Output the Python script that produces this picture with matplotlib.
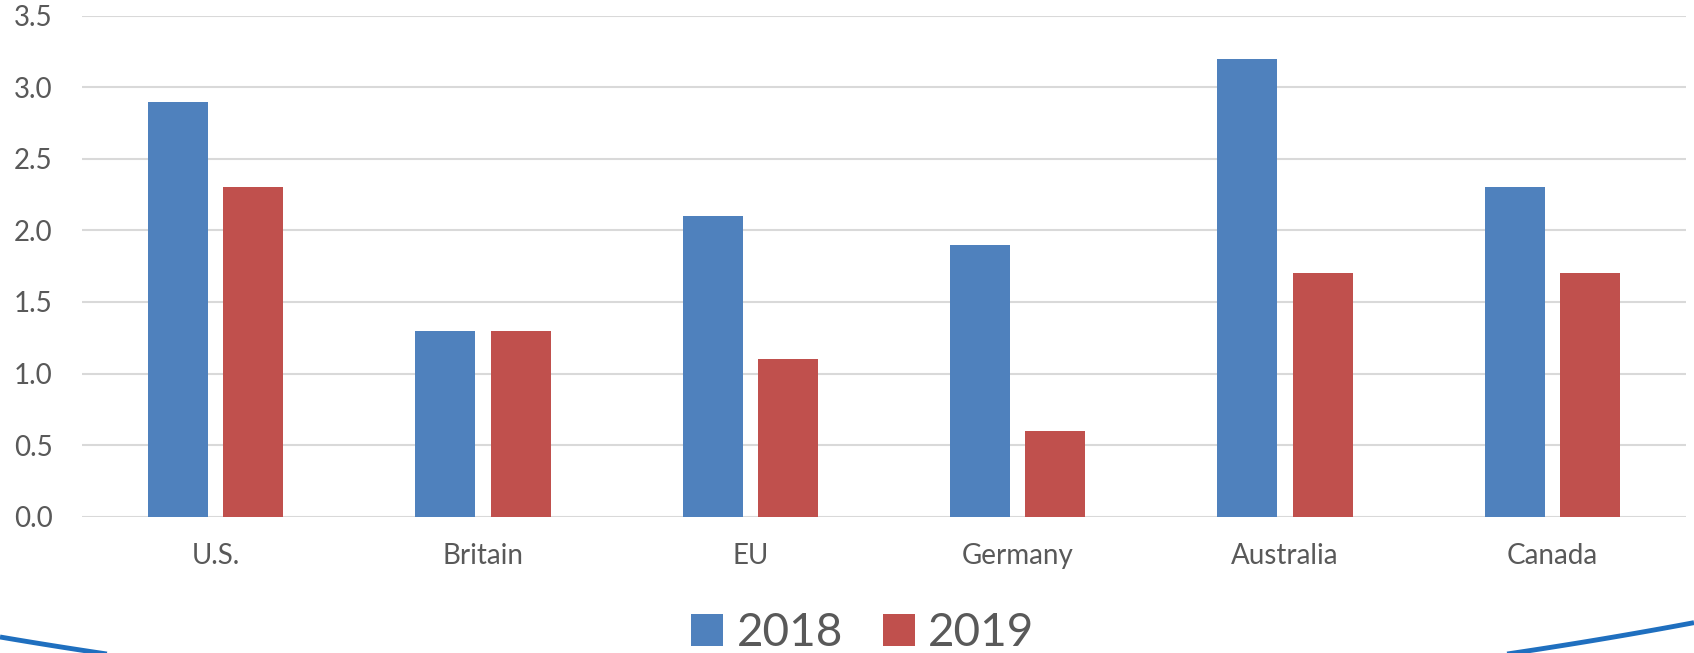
import numpy as np
import matplotlib
matplotlib.use("Agg")
import matplotlib.pyplot as plt
from matplotlib.lines import Line2D

# Values per region, two years
regions = ["U.S.", "Britain", "EU", "Germany", "Australia", "Canada"]
vals_2018 = [2.9, 1.3, 2.1, 1.9, 3.2, 2.3]
vals_2019 = [2.3, 1.3, 1.1, 0.6, 1.7, 1.7]
years = ["2018", "2019"]
yticks = [0.0, 0.5, 1.0, 1.5, 2.0, 2.5, 3.0, 3.5]

blue = "#4F81BD"
red = "#C0504D"
txt = "#595959"

plt.rcParams["font.family"] = ["Lato", "DejaVu Sans"]

W, H = 1694, 653
fig = plt.figure(figsize=(W / 100, H / 100), dpi=100)
ax = fig.add_axes([82 / W, 1 - 516.7 / H, 1604 / W, 501 / H])

x = np.arange(len(regions))
bw = 0.224
off = 0.141
b1 = ax.bar(x - off, vals_2018, bw, color=blue, label=years[0], zorder=3)
b2 = ax.bar(x + off, vals_2019, bw, color=red, label=years[1], zorder=3)

ax.set_xlim(-0.5, len(regions) - 0.5)
ax.set_ylim(0, 3.5)
ax.set_yticks(yticks)
ax.set_yticklabels([f"{v:.1f}" for v in yticks])
ax.set_xticks(x)
ax.set_xticklabels(regions)
ax.grid(axis="y", color="#D9D9D9", linewidth=1.5, zorder=0)
ax.set_axisbelow(True)
for s in ax.spines.values():
    s.set_visible(False)
ax.tick_params(axis="both", length=0, colors=txt, labelsize=20)
ax.tick_params(axis="y", pad=21)
ax.tick_params(axis="x", pad=19)

fig.legend(handles=[b1, b2], labels=years, loc="center",
           bbox_to_anchor=(863 / W, 1 - 633 / H), ncol=2, frameon=False,
           fontsize=33, labelcolor=txt, handlelength=0.7, handleheight=0.7,
           handletextpad=0.3, columnspacing=0.85, borderpad=0)

# decorative arc along the bottom edge
px = np.linspace(0, W, 400)
py = 705.8 - 1.0568e-4 * (px - 807) ** 2
mask = py <= H + 5
fig.add_artist(Line2D(px[mask] / W, 1 - py[mask] / H, transform=fig.transFigure,
                      color="#1F6FBF", linewidth=3.5, solid_capstyle="butt"))

fig.savefig("out.png", dpi=100)
